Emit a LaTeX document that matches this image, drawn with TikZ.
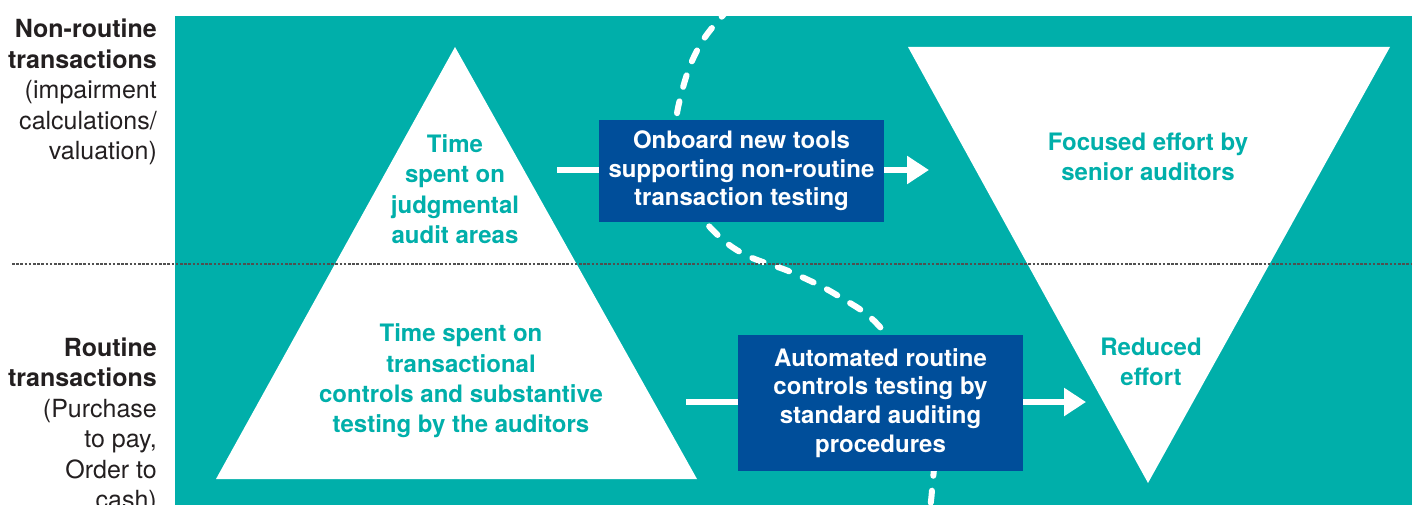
\documentclass[tikz,border=0pt]{standalone}
\usepackage{fontspec}
\setmainfont{TeX Gyre Heros}
\usetikzlibrary{arrows.meta}
\definecolor{kteal}{HTML}{00AFAA}
\definecolor{kblue}{HTML}{004E9A}
\definecolor{rulegray}{HTML}{505050}
\definecolor{labelink}{HTML}{231F20}

\begin{document}
\begin{tikzpicture}[x=1pt,y=-1pt,
  bandlabel/.style={anchor=base east, align=right, text=labelink, inner sep=0pt,
    font=\fontsize{25}{30.5}\selectfont},
  tritext/.style={align=center, text=kteal, inner sep=0pt,
    font=\bfseries\fontsize{24}{30.4}\selectfont},
  actionbox/.style={fill=kblue, text=white, align=center, inner sep=0pt,
    minimum width=285pt, font=\bfseries\fontsize{24}{28.7}\selectfont},
  link/.style={draw=white, line width=5.5pt},
  flow/.style={link, -{Triangle[length=22pt,width=27pt]}},
  divider/.style={draw=rulegray, line width=1.3pt, dash pattern=on 2.6pt off 1.6pt},
  boundary/.style={draw=white, line width=6pt, line cap=round, dash pattern=on 12pt off 15pt}
]
\useasboundingbox (0,0) rectangle (1412,505);

% teal panel
\fill[kteal] (175,16) rectangle (1412,505);

% effort triangles
\coordinate (lt) at (455,47);
\coordinate (ll) at (216,479);
\coordinate (lr) at (697,479);
\fill[white] (ll) -- (lt) -- (lr) -- cycle;
\coordinate (rl) at (908,47);
\coordinate (rr) at (1390,47);
\coordinate (rb) at (1148,483);
\fill[white] (rl) -- (rr) -- (rb) -- cycle;

% dashed S-shaped boundary
\begin{scope}
  \clip (175,16) rectangle (1412,505);
  \draw[boundary] plot[smooth, tension=0.7] coordinates {
    (730,8) (700,45) (681,95) (676,140) (685,195) (705,222) (740,252)
    (793,273) (840,297) (880,327) (915,380) (933,440) (932,490) (928,520)};
\end{scope}

% band divider
\coordinate (dv1) at (12,264);
\coordinate (dv2) at (1412,264);
\draw[divider] (dv1) -- (dv2);

% band labels (anchored on the baseline of their last line)
\node[bandlabel] (nonroutine) at (157,160)
  {\textbf{Non-routine}\\\textbf{transactions}\\(impairment\\calculations/\\valuation)};
\node[bandlabel] (routine) at (157,508.5)
  {\textbf{Routine}\\\textbf{transactions}\\(Purchase\\to pay,\\Order to\\cash)};

% triangle texts
\node[tritext] (judg) at (455,189) {Time\\spent on\\judgmental\\audit areas};
\node[tritext] (trans) at (461,381) {Time spent on\\transactional\\controls and substantive\\testing by the auditors};
\node[tritext] (focus) at (1148,157) {Focused effort by\\senior auditors};
\node[tritext] (reduced) at (1151,362) {Reduced\\effort};

% action boxes
\node[actionbox, minimum height=102pt] (box1) at (741.5,171)
  {\raisebox{-2pt}{\parbox{285pt}{\centering Onboard new tools\\supporting non-routine\\transaction testing}}};
\node[actionbox, minimum height=136pt] (box2) at (880.5,403)
  {Automated routine\\controls testing by\\standard auditing\\procedures};

% flow arrows
\coordinate (s1) at (557,170);
\coordinate (e1) at (929,170);
\draw[link] (s1) -- (s1 -| box1.west);
\draw[flow] (e1 -| box1.east) -- (e1);
\coordinate (s2) at (686,402);
\coordinate (e2) at (1086,402);
\draw[link] (s2) -- (s2 -| box2.west);
\draw[flow] (e2 -| box2.east) -- (e2);
\end{tikzpicture}
\end{document}
